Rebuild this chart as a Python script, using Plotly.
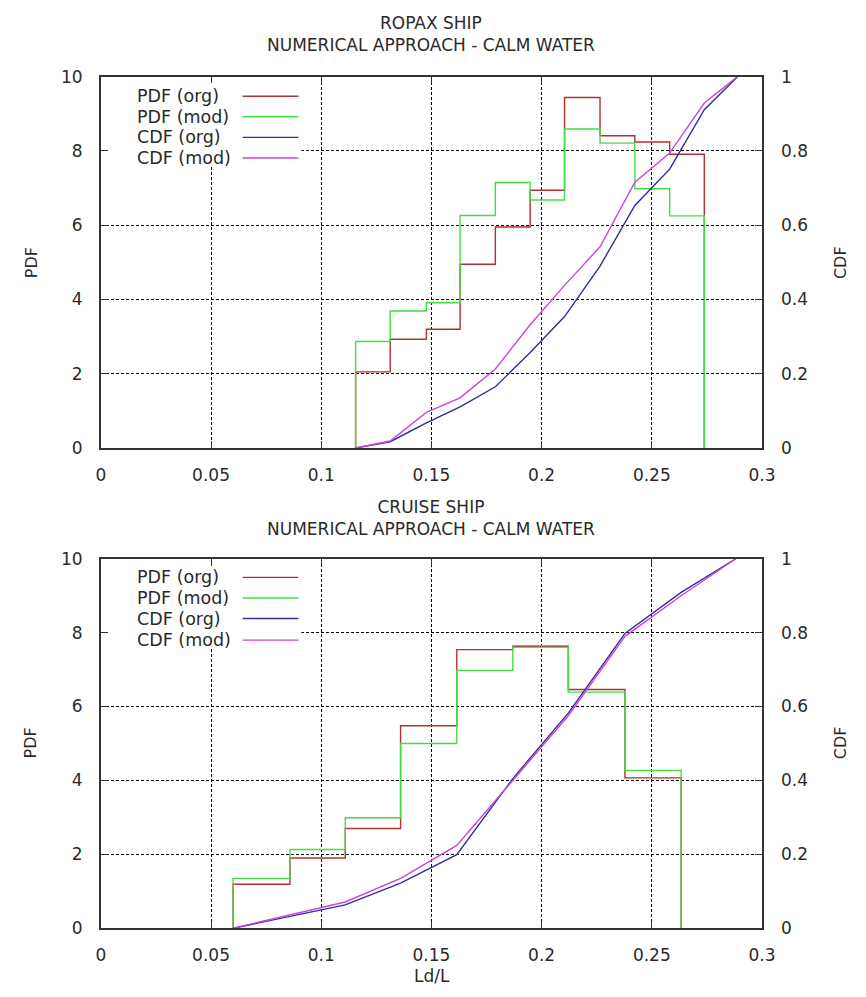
import plotly.graph_objects as go
from plotly.subplots import make_subplots

# ---------------- data ----------------
top_edges = [0.1156, 0.1313, 0.1477, 0.1630, 0.1790, 0.1948, 0.2104, 0.2265, 0.2423, 0.2581, 0.2738]
top_pdf_org = [2.05, 2.93, 3.20, 4.95, 5.95, 6.94, 9.44, 8.41, 8.24, 7.91]
top_pdf_mod = [2.87, 3.69, 3.91, 6.26, 7.15, 6.68, 8.59, 8.21, 6.98, 6.25]
top_cdf_x = [0.1156, 0.1313, 0.1477, 0.1630, 0.1790, 0.1948, 0.2104, 0.2265, 0.2423, 0.2581, 0.2738, 0.2889]
top_cdf_org = [0.0, 0.017, 0.068, 0.111, 0.165, 0.257, 0.354, 0.490, 0.653, 0.751, 0.911, 1.0]
top_cdf_mod = [0.0, 0.019, 0.096, 0.135, 0.213, 0.332, 0.438, 0.542, 0.716, 0.794, 0.929, 1.0]

bot_edges = [0.0600, 0.0858, 0.1109, 0.1360, 0.1615, 0.1869, 0.2121, 0.2378, 0.2633]
bot_pdf_org = [1.19, 1.90, 2.70, 5.48, 7.54, 7.62, 6.46, 4.07]
bot_pdf_mod = [1.35, 2.13, 2.99, 5.00, 6.98, 7.65, 6.39, 4.27]
bot_cdf_x = [0.0600, 0.0858, 0.1109, 0.1360, 0.1615, 0.1869, 0.2121, 0.2378, 0.2633, 0.2881]
bot_cdf_org = [0.0, 0.032, 0.063, 0.122, 0.199, 0.405, 0.582, 0.798, 0.909, 1.0]
bot_cdf_mod = [0.0, 0.036, 0.071, 0.135, 0.224, 0.400, 0.575, 0.790, 0.900, 1.0]

titles = ["ROPAX SHIP<br>NUMERICAL APPROACH - CALM WATER",
          "CRUISE SHIP<br>NUMERICAL APPROACH - CALM WATER"]
series_names = ["PDF (org)", "PDF (mod)", "CDF (org)", "CDF (mod)"]
colors = ["#b23030", "#44dd44", "#2e2e9c", "#cc44dd"]

# ---------------- layout helpers ----------------
W, H = 866, 997
FONT = "DejaVu Sans"
TXT = "#2a2a2a"


def px(x):
    return x / W


def py(y):
    return 1 - y / H


def step_xy(edges, vals):
    xs = [edges[0]] + list(edges[:-1]) + [edges[-1]]
    ys = [0] + list(vals) + [0]
    return xs, ys


fig = make_subplots(rows=2, cols=1, specs=[[{"secondary_y": True}], [{"secondary_y": True}]])

panels = [
    (top_edges, top_pdf_org, top_pdf_mod, top_cdf_x, top_cdf_org, top_cdf_mod),
    (bot_edges, bot_pdf_org, bot_pdf_mod, bot_cdf_x, bot_cdf_org, bot_cdf_mod),
]

for r, (edges, po, pm, cx, co, cm) in enumerate(panels, start=1):
    xs, ys = step_xy(edges, po)
    fig.add_trace(go.Scatter(x=xs, y=ys, mode="lines", line_shape="hv", name=series_names[0],
                             line=dict(color=colors[0], width=1.4)), row=r, col=1, secondary_y=False)
    xs, ys = step_xy(edges, pm)
    fig.add_trace(go.Scatter(x=xs, y=ys, mode="lines", line_shape="hv", name=series_names[1],
                             line=dict(color=colors[1], width=1.4)), row=r, col=1, secondary_y=False)
    fig.add_trace(go.Scatter(x=cx, y=co, mode="lines", name=series_names[2],
                             line=dict(color=colors[2], width=1.4)), row=r, col=1, secondary_y=True)
    fig.add_trace(go.Scatter(x=cx, y=cm, mode="lines", name=series_names[3],
                             line=dict(color=colors[3], width=1.4)), row=r, col=1, secondary_y=True)

tickfont = dict(family=FONT, size=17, color=TXT)
common_x = dict(range=[0, 0.3], dtick=0.05, tick0=0, showgrid=True, gridcolor="black", gridwidth=1,
                griddash="3px,2px", zeroline=False, showline=True, linecolor="#333", linewidth=1.5,
                mirror="ticks", ticks="inside", ticklen=7, tickcolor="#333", tickfont=tickfont,
                ticklabelstandoff=11)
common_yl = dict(range=[0, 10], dtick=2, tick0=0, showgrid=True, gridcolor="black", gridwidth=1,
                 griddash="3px,2px", zeroline=False, showline=True, linecolor="#333", linewidth=1.5,
                 mirror=True, ticks="inside", ticklen=7, tickcolor="#333", tickfont=tickfont,
                 ticklabelstandoff=13)
common_yr = dict(range=[0, 1], dtick=0.2, tick0=0, showgrid=False, zeroline=False, showline=False,
                 ticks="inside", ticklen=7, tickcolor="#333", tickfont=tickfont, ticklabelstandoff=18)

xdom = [px(98), px(774)]
ydom_top = [py(447), py(68)]
ydom_bot = [py(937), py(560)]

fig.update_layout(
    xaxis=dict(domain=xdom, anchor="y", **common_x),
    xaxis2=dict(domain=xdom, anchor="y3", **common_x),
    yaxis=dict(domain=ydom_top, anchor="x", **common_yl),
    yaxis2=dict(domain=ydom_top, anchor="x", overlaying="y", side="right", **common_yr),
    yaxis3=dict(domain=ydom_bot, anchor="x2", **common_yl),
    yaxis4=dict(domain=ydom_bot, anchor="x2", overlaying="y3", side="right", **common_yr),
)

annotations = []
shapes = []
# titles
for t, yc in zip(titles, [25, 518]):
    annotations.append(dict(text=t, x=px(436), y=py(yc), xref="paper", yref="paper",
                            xanchor="center", yanchor="middle", showarrow=False,
                            font=dict(family=FONT, size=17, color=TXT)))
# axis titles
for yc in [258, 748]:
    annotations.append(dict(text="PDF", x=px(27), y=py(yc), xref="paper", yref="paper",
                            textangle=-90, showarrow=False, xanchor="center", yanchor="middle",
                            font=dict(family=FONT, size=16, color=TXT)))
    annotations.append(dict(text="CDF", x=px(855), y=py(yc), xref="paper", yref="paper",
                            textangle=-90, showarrow=False, xanchor="center", yanchor="middle",
                            font=dict(family=FONT, size=16, color=TXT)))
annotations.append(dict(text="Ld/L", x=px(437), y=py(986), xref="paper", yref="paper",
                        showarrow=False, xanchor="center", yanchor="middle",
                        font=dict(family=FONT, size=17, color=TXT)))

# manual legends (text left, line sample right, as in the original)
for xref_, yref_, rows in [("x", "y", [88, 109, 130, 151]), ("x2", "y3", [579, 600, 621, 643])]:
    # white legend box hiding the grid
    shapes.append(dict(type="rect", xref=xref_, yref=yref_, x0=0.001, x1=0.091, y0=7.62, y1=9.97,
                       fillcolor="white", line=dict(width=0), layer="between"))
    for name, col, yy in zip(series_names, colors, rows):
        annotations.append(dict(text=name, x=px(133), y=py(yy), xref="paper", yref="paper",
                                xanchor="left", yanchor="middle", showarrow=False,
                                font=dict(family=FONT, size=17.5, color=TXT)))
        shapes.append(dict(type="line", xref="paper", yref="paper", x0=px(243), x1=px(300),
                           y0=py(yy), y1=py(yy), line=dict(color=col, width=1.4)))

fig.update_layout(
    width=W, height=H, margin=dict(l=0, r=0, t=0, b=0),
    paper_bgcolor="white", plot_bgcolor="white", showlegend=False,
    annotations=annotations, shapes=shapes,
    font=dict(family=FONT, color=TXT),
)

fig.write_html("out.html")
